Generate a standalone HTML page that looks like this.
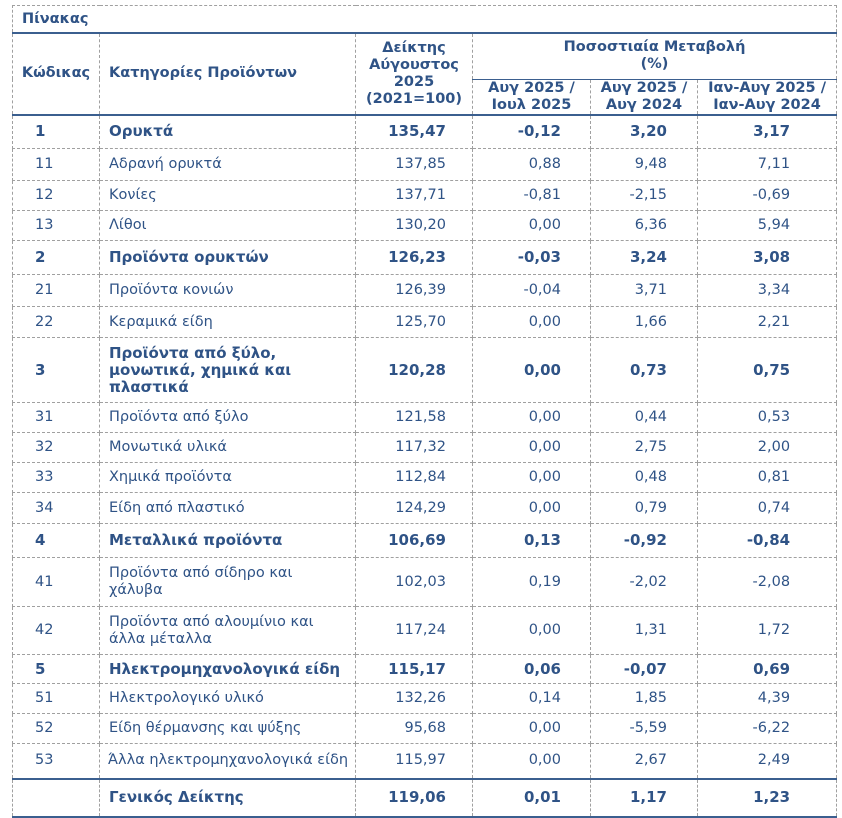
<!DOCTYPE html>
<html><head><meta charset="utf-8"><style>
html,body{margin:0;padding:0;background:#fff;width:842px;height:818px;overflow:hidden}
body{font-family:"DejaVu Sans","Liberation Sans",sans-serif;color:#2f5386;font-size:14.5px}
table{position:absolute;left:12px;top:5px;border-collapse:collapse;table-layout:fixed;width:824px}
td{border:1px dashed #a0a0a0;padding:0;line-height:17px;vertical-align:middle;white-space:nowrap}
.t td{height:26px;padding-left:9px;font-weight:bold;font-size:14.5px}
.h td{font-weight:bold;text-align:center;font-size:14.5px;line-height:17px}
.hb td{border-bottom:2px solid #3b5f8f}
.n{padding-left:9px}
.r1{text-align:right;padding-right:26px}
.r2{text-align:right;padding-right:29px}
.r3{text-align:right;padding-right:30px}
.r4{text-align:right;padding-right:46px}
.b td{font-weight:bold;font-size:15px}
.code{padding-left:22px}
.tot td{border-top:2px solid #3b5f8f;border-bottom:2px solid #3b5f8f}
</style></head><body>
<table>
<colgroup><col style="width:87px"><col style="width:256px"><col style="width:117px"><col style="width:118px"><col style="width:107px"><col style="width:139px"></colgroup>
<tr class="t"><td colspan="6" style="border-bottom:2px solid #3b5f8f">Πίνακας</td></tr>
<tr class="h" style="height:46px"><td rowspan="2" style="border-bottom:2px solid #3b5f8f">Κώδικας</td><td rowspan="2" style="text-align:left;padding-left:9px;border-bottom:2px solid #3b5f8f">Κατηγορίες Προϊόντων</td><td rowspan="2" style="border-bottom:2px solid #3b5f8f">Δείκτης<br>Αύγουστος<br>2025<br>(2021=100)</td><td colspan="3" style="border-bottom:1px solid #3b5f8f">Ποσοστιαία Μεταβολή<br>(%)</td></tr>
<tr class="h hb" style="height:35px"><td>Αυγ 2025 /<br>Ιουλ 2025</td><td>Αυγ 2025 /<br>Αυγ 2024</td><td>Ιαν-Αυγ 2025 /<br>Ιαν-Αυγ 2024</td></tr>
<tr class="b" style="height:34px"><td class="code">1</td><td class="n">Ορυκτά</td><td class="r1">135,47</td><td class="r2">-0,12</td><td class="r3">3,20</td><td class="r4">3,17</td></tr>
<tr style="height:32px"><td class="code">11</td><td class="n">Αδρανή ορυκτά</td><td class="r1">137,85</td><td class="r2">0,88</td><td class="r3">9,48</td><td class="r4">7,11</td></tr>
<tr style="height:30px"><td class="code">12</td><td class="n">Κονίες</td><td class="r1">137,71</td><td class="r2">-0,81</td><td class="r3">-2,15</td><td class="r4">-0,69</td></tr>
<tr style="height:30px"><td class="code">13</td><td class="n">Λίθοι</td><td class="r1">130,20</td><td class="r2">0,00</td><td class="r3">6,36</td><td class="r4">5,94</td></tr>
<tr class="b" style="height:34px"><td class="code">2</td><td class="n">Προϊόντα ορυκτών</td><td class="r1">126,23</td><td class="r2">-0,03</td><td class="r3">3,24</td><td class="r4">3,08</td></tr>
<tr style="height:32px"><td class="code">21</td><td class="n">Προϊόντα κονιών</td><td class="r1">126,39</td><td class="r2">-0,04</td><td class="r3">3,71</td><td class="r4">3,34</td></tr>
<tr style="height:31px"><td class="code">22</td><td class="n">Κεραμικά είδη</td><td class="r1">125,70</td><td class="r2">0,00</td><td class="r3">1,66</td><td class="r4">2,21</td></tr>
<tr class="b" style="height:65px"><td class="code">3</td><td class="n">Προϊόντα από ξύλο,<br>μονωτικά, χημικά και<br>πλαστικά</td><td class="r1">120,28</td><td class="r2">0,00</td><td class="r3">0,73</td><td class="r4">0,75</td></tr>
<tr style="height:30px"><td class="code">31</td><td class="n">Προϊόντα από ξύλο</td><td class="r1">121,58</td><td class="r2">0,00</td><td class="r3">0,44</td><td class="r4">0,53</td></tr>
<tr style="height:30px"><td class="code">32</td><td class="n">Μονωτικά υλικά</td><td class="r1">117,32</td><td class="r2">0,00</td><td class="r3">2,75</td><td class="r4">2,00</td></tr>
<tr style="height:30px"><td class="code">33</td><td class="n">Χημικά προϊόντα</td><td class="r1">112,84</td><td class="r2">0,00</td><td class="r3">0,48</td><td class="r4">0,81</td></tr>
<tr style="height:31px"><td class="code">34</td><td class="n">Είδη από πλαστικό</td><td class="r1">124,29</td><td class="r2">0,00</td><td class="r3">0,79</td><td class="r4">0,74</td></tr>
<tr class="b" style="height:34px"><td class="code">4</td><td class="n">Μεταλλικά προϊόντα</td><td class="r1">106,69</td><td class="r2">0,13</td><td class="r3">-0,92</td><td class="r4">-0,84</td></tr>
<tr style="height:49px"><td class="code">41</td><td class="n">Προϊόντα από σίδηρο και<br>χάλυβα</td><td class="r1">102,03</td><td class="r2">0,19</td><td class="r3">-2,02</td><td class="r4">-2,08</td></tr>
<tr style="height:48px"><td class="code">42</td><td class="n">Προϊόντα από αλουμίνιο και<br>άλλα μέταλλα</td><td class="r1">117,24</td><td class="r2">0,00</td><td class="r3">1,31</td><td class="r4">1,72</td></tr>
<tr class="b" style="height:29px"><td class="code">5</td><td class="n" style="overflow:hidden">Ηλεκτρομηχανολογικά είδη</td><td class="r1">115,17</td><td class="r2">0,06</td><td class="r3">-0,07</td><td class="r4">0,69</td></tr>
<tr style="height:30px"><td class="code">51</td><td class="n">Ηλεκτρολογικό υλικό</td><td class="r1">132,26</td><td class="r2">0,14</td><td class="r3">1,85</td><td class="r4">4,39</td></tr>
<tr style="height:30px"><td class="code">52</td><td class="n">Είδη θέρμανσης και ψύξης</td><td class="r1">95,68</td><td class="r2">0,00</td><td class="r3">-5,59</td><td class="r4">-6,22</td></tr>
<tr style="height:35px"><td class="code">53</td><td class="n" style="overflow:hidden;padding-left:8px">Άλλα ηλεκτρομηχανολογικά είδη</td><td class="r1">115,97</td><td class="r2">0,00</td><td class="r3">2,67</td><td class="r4">2,49</td></tr>
<tr class="b tot" style="height:38px"><td></td><td class="n">Γενικός Δείκτης</td><td class="r1">119,06</td><td class="r2">0,01</td><td class="r3">1,17</td><td class="r4">1,23</td></tr>
</table>
</body></html>
